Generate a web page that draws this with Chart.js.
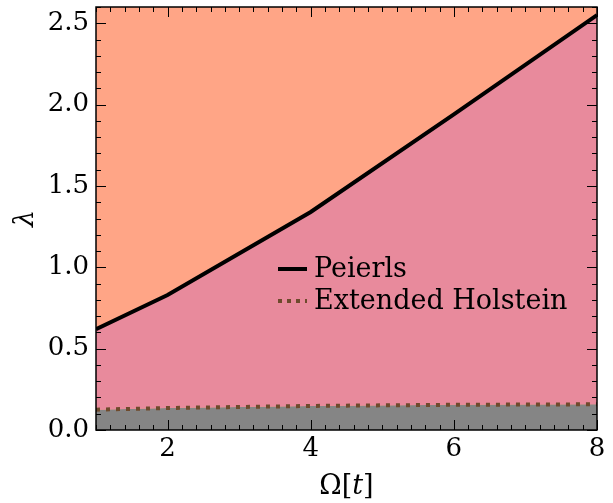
<!DOCTYPE html>
<html lang="en">
<head>
    <meta charset="UTF-8">
    <title>Peierls vs Extended Holstein</title>
    <script src="https://cdn.jsdelivr.net/npm/chart.js"></script>
    <style>
        html, body { margin: 0; padding: 0; background: #ffffff; }
        #wrap { width: 613px; height: 503px; }
    </style>
</head>
<body>
    <div id="wrap"><canvas id="phaseChart" width="613" height="503"></canvas></div>

    <script>
        // Data
        const omega = [1, 2, 4, 6, 8];
        const peierls = [0.62, 0.83, 1.34, 1.94, 2.55];
        const holstein = [0.125, 0.135, 0.148, 0.155, 0.158];

        const xTicks = [2, 4, 6, 8];
        const yTicks = [0.0, 0.5, 1.0, 1.5, 2.0, 2.5];

        const seriesLabels = ['Peierls', 'Extended Holstein'];

        const FONT = 'DejaVu Serif';
        const orange = '#FFA586';
        const pink = '#E88A9C';
        const grey = '#858585';
        const brown = '#6E4A2C';

        // background above Peierls line, box, inward ticks, legend, axis titles
        const framePlugin = {
            id: 'frame',
            beforeDraw(chart) {
                const a = chart.chartArea;
                const ctx = chart.ctx;
                ctx.save();
                ctx.fillStyle = orange;
                ctx.fillRect(a.left, a.top, a.right - a.left, a.bottom - a.top);
                ctx.restore();
            },
            afterDraw(chart) {
                const a = chart.chartArea;
                const ctx = chart.ctx;
                const xs = chart.scales.x, ys = chart.scales.y;
                ctx.save();
                ctx.strokeStyle = '#000';
                ctx.lineWidth = 1;

                // minor ticks
                ctx.beginPath();
                for (let i = 0; i <= 35; i++) {
                    const v = 1 + i * 0.2;
                    const px = Math.round(xs.getPixelForValue(v)) + 0.5;
                    ctx.moveTo(px, a.bottom); ctx.lineTo(px, a.bottom - 5);
                    ctx.moveTo(px, a.top); ctx.lineTo(px, a.top + 5);
                }
                for (let i = 0; i <= 26; i++) {
                    const py = Math.round(ys.getPixelForValue(i * 0.1)) + 0.5;
                    ctx.moveTo(a.left, py); ctx.lineTo(a.left + 5, py);
                    ctx.moveTo(a.right, py); ctx.lineTo(a.right - 5, py);
                }
                // major ticks
                xTicks.forEach(v => {
                    const px = Math.round(xs.getPixelForValue(v)) + 0.5;
                    ctx.moveTo(px, a.bottom); ctx.lineTo(px, a.bottom - 10);
                    ctx.moveTo(px, a.top); ctx.lineTo(px, a.top + 10);
                });
                yTicks.forEach(v => {
                    const py = Math.round(ys.getPixelForValue(v)) + 0.5;
                    ctx.moveTo(a.left, py); ctx.lineTo(a.left + 10, py);
                    ctx.moveTo(a.right, py); ctx.lineTo(a.right - 10, py);
                });
                ctx.stroke();

                // frame
                ctx.lineWidth = 1.5;
                ctx.strokeRect(a.left, a.top, a.right - a.left, a.bottom - a.top);

                // legend
                const lx = a.left + 182, ly = a.top + 262, gap = 32;
                ctx.lineWidth = 4;
                ctx.strokeStyle = '#000';
                ctx.beginPath();
                ctx.moveTo(lx, ly); ctx.lineTo(lx + 29, ly);
                ctx.stroke();
                ctx.strokeStyle = brown;
                ctx.setLineDash([4, 5]);
                ctx.beginPath();
                ctx.moveTo(lx, ly + gap); ctx.lineTo(lx + 29, ly + gap);
                ctx.stroke();
                ctx.setLineDash([]);
                ctx.fillStyle = '#000';
                ctx.font = '27px "' + FONT + '"';
                ctx.textBaseline = 'middle';
                ctx.fillText(seriesLabels[0], lx + 36, ly + 1);
                ctx.fillText(seriesLabels[1], lx + 36, ly + gap + 1);

                // x title: Ω[t] with italic t
                const up = '27px "' + FONT + '"', it = 'italic 27px "' + FONT + '"';
                ctx.textBaseline = 'alphabetic';
                const parts = [['Ω[', up], ['t', it], [']', up]];
                let w = 0;
                parts.forEach(p => { ctx.font = p[1]; w += ctx.measureText(p[0]).width; });
                let x = (a.left + a.right) / 2 - w / 2;
                parts.forEach(p => {
                    ctx.font = p[1];
                    ctx.fillText(p[0], x, 494);
                    x += ctx.measureText(p[0]).width;
                });

                // y title: λ rotated
                ctx.translate(26, (a.top + a.bottom) / 2);
                ctx.rotate(-Math.PI / 2);
                ctx.font = it;
                ctx.textAlign = 'center';
                ctx.textBaseline = 'middle';
                ctx.fillText('λ', 0, 0);
                ctx.restore();
            }
        };

        new Chart(document.getElementById('phaseChart'), {
            type: 'line',
            data: {
                labels: omega,
                datasets: [{
                    label: seriesLabels[0],
                    data: omega.map((x, i) => ({ x: x, y: peierls[i] })),
                    borderColor: '#000',
                    borderWidth: 4,
                    backgroundColor: pink,
                    fill: 1,
                    pointRadius: 0,
                    tension: 0
                }, {
                    label: seriesLabels[1],
                    data: omega.map((x, i) => ({ x: x, y: holstein[i] })),
                    borderColor: brown,
                    borderWidth: 4,
                    borderDash: [4, 6],
                    backgroundColor: grey,
                    fill: 'origin',
                    pointRadius: 0,
                    tension: 0
                }]
            },
            options: {
                responsive: false,
                animation: false,
                layout: { padding: { top: 7, right: 16, left: 0, bottom: 0 } },
                plugins: {
                    legend: { display: false },
                    tooltip: { enabled: false },
                    filler: { drawTime: 'beforeDatasetsDraw' }
                },
                scales: {
                    x: {
                        type: 'linear',
                        min: 1,
                        max: 8,
                        grid: { display: false, drawTicks: false },
                        border: { display: false },
                        afterBuildTicks: s => { s.ticks = xTicks.map(v => ({ value: v })); },
                        afterFit: s => { s.height = 73; s.paddingLeft = 0; s.paddingRight = 0; },
                        ticks: {
                            color: '#000',
                            padding: 4,
                            maxRotation: 0,
                            font: { family: FONT, size: 26 },
                            callback: v => String(v)
                        }
                    },
                    y: {
                        min: 0,
                        max: 2.6,
                        grid: { display: false, drawTicks: false },
                        border: { display: false },
                        afterBuildTicks: s => { s.ticks = yTicks.map(v => ({ value: v })); },
                        afterFit: s => { s.width = 96; s.paddingTop = 0; s.paddingBottom = 0; },
                        ticks: {
                            color: '#000',
                            padding: 7,
                            font: { family: FONT, size: 26 },
                            callback: v => v.toFixed(1)
                        }
                    }
                }
            },
            plugins: [framePlugin]
        });
    </script>
</body>
</html>
